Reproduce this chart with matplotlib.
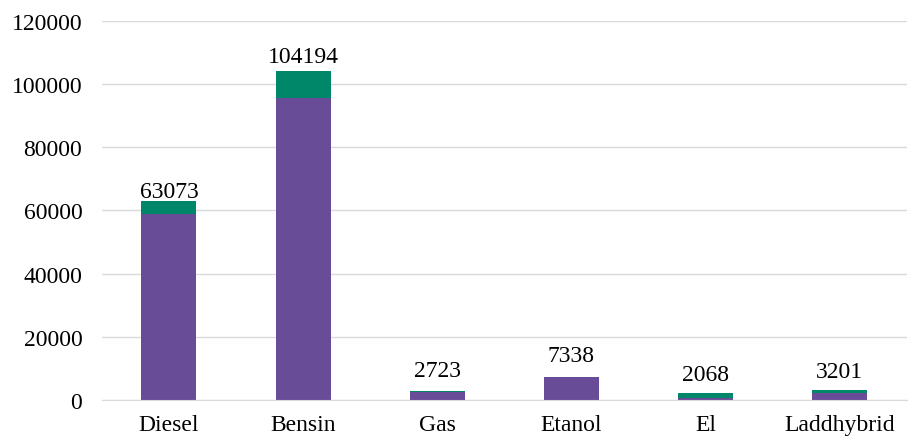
import numpy as np
import matplotlib.pyplot as plt

categories = ["Diesel", "Bensin", "Gas", "Etanol", "El", "Laddhybrid"]
totals = [63073, 104194, 2723, 7338, 2068, 3201]
lower = [58800, 95500, 2400, 7338, 700, 2000]
upper = [t - l for t, l in zip(totals, lower)]

PURPLE = "#684C97"
GREEN = "#00876A"
# label gap above bar top, in points (as placed in the original)
label_gap = [3, 6.5, 11, 11, 9.5, 9]

plt.rcParams["font.family"] = ["Liberation Serif", "DejaVu Serif"]

fig = plt.figure(figsize=(9.17, 4.39), dpi=100)
ax = fig.add_axes([0.111, 0.087, 0.878, 0.863])

x = np.arange(len(categories))
ax.bar(x, lower, width=0.41, color=PURPLE, zorder=3)
ax.bar(x, upper, width=0.41, bottom=lower, color=GREEN, zorder=3)
for xi, t, g in zip(x, totals, label_gap):
    ax.annotate(str(t), (xi, t), xytext=(0, g), textcoords="offset points",
                ha="center", va="baseline", fontsize=17)

ax.set_xlim(-0.5, len(categories) - 0.5)
ax.set_ylim(0, 120000)
ax.set_yticks(range(0, 120001, 20000))
ax.set_xticks(x)
ax.set_xticklabels(categories)
ax.tick_params(axis="both", labelsize=17, length=0)
ax.tick_params(axis="y", pad=14)
ax.tick_params(axis="x", pad=10)
ax.grid(axis="y", color="#D9D9D9", linewidth=1, zorder=0)
for s in ["top", "right", "left"]:
    ax.spines[s].set_visible(False)
ax.spines["bottom"].set_color("#D9D9D9")
ax.spines["bottom"].set_zorder(4)

fig.savefig("out.png", dpi=100, facecolor="white")
